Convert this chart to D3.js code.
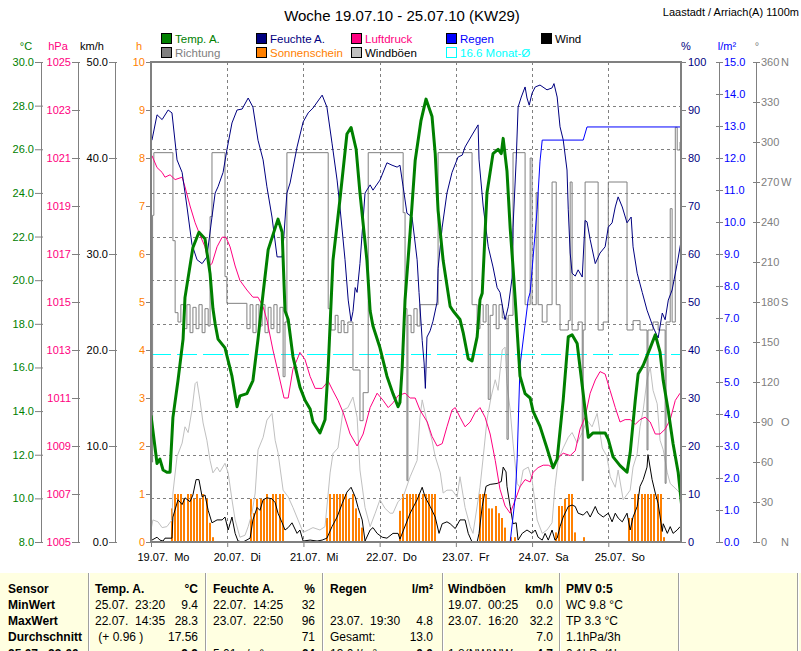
<!DOCTYPE html>
<html>
<head>
<meta charset="UTF-8">
<title>Woche 19.07.10 - 25.07.10 (KW29)</title>
<script src="https://d3js.org/d3.v7.min.js"></script>
<style>
body { margin: 0; background: #fff; }
svg text { font-family: "Liberation Sans", Arial, sans-serif; font-size: 11px; white-space: pre; }
</style>
</head>
<body>
<svg id="chart" width="801" height="651"></svg>
<script>
/* DATA (hours since 19.07. 00:00) */

var dayLabels = ["19.07.  Mo", "20.07.  Di", "21.07.  Mi", "22.07.  Do", "23.07.  Fr", "24.07.  Sa", "25.07.  So"];

// temperature °C
var temp = [[0,13.8],[1.9,11.6],[2.8,11.8],[3.8,11.3],[5,11.2],[6,11.2],[6.9,13.7],[8.5,15.4],[10.1,17.3],[10.7,19.2],
  [13.2,21.5],[15.1,22.2],[17,21.9],[18.6,20.3],[19.5,18.7],[20.2,18],[21.1,17.3],[23.3,16.9],[25.5,15.6],[27.1,14.2],
  [28,14.7],[30.2,14.8],[32.1,15.4],[33.7,17.3],[35.3,19.4],[36.9,21.4],[40,22.8],[41.3,22.2],[42.2,18.6],[43.2,18.2],
  [44.7,16.5],[46.9,15.1],[48.5,14.5],[50.1,14.1],[51,13.5],[53.2,13],[54.8,13.6],[55.8,16],[57.3,20.9],[59.5,23.7],
  [61.7,26.7],[63,27],[64.6,26],[65.8,24],[68,20.9],[69,18.6],[69.9,17.9],[72.1,16.9],[74.3,15.6],[76.2,14.8],
  [77.8,14.2],[78.4,14.4],[79.1,16],[80,19.1],[81.6,22.2],[83.2,25.5],[85,27.3],[86.6,28.3],[88.5,27.5],[89.5,25.8],
  [90.4,23.2],[92,20.9],[94.2,18.8],[95.1,18.6],[97.3,18.2],[98.3,17.6],[99.9,16.4],[101.1,16.3],[102.7,17.4],[103.6,19.1],
  [104.3,19.4],[105.8,24],[107.7,25.8],[109.3,26],[110.3,25.8],[110.9,26.5],[112.1,25],[113.1,22.4],[114,20.6],[114.7,19.1],
  [116.2,15.6],[117.8,14.8],[119.4,14.6],[120.3,14],[122.5,13.3],[124.7,12.3],[126.6,11.4],[127.9,11.8],[129.8,14.5],[131.4,17.4],
  [132.6,17.5],[134.2,17.1],[135.1,16],[136.1,14.8],[137.7,12.8],[139.2,13],[141.4,13],[143,13],[144,12.7],[145.5,11.9],
  [147.7,11.5],[149.9,11.2],[150.9,12.1],[152.5,14.5],[153.4,15.7],[155,16.1],[157.2,16.9],[158.8,17.5],[160.3,16.7],[161.3,15.4],
  [162.9,14],[164.4,12.5],[166,11.2],[167.3,9.4]];

// humidity %
var humidity = [[0.3,83.7],[1.9,89],[3.5,88],[5.4,90],[6.6,89.4],[8.2,79.6],[9.8,77],[11.3,70],[12.9,62],[14.5,58.8],
  [16.1,58],[17.6,59.4],[19.2,67.7],[20.2,72.7],[21.1,74],[22.7,77],[23.9,81.7],[25.5,87.3],[27.1,90],[28.7,90.2],
  [30.6,92.5],[32.1,90.6],[33.7,83.7],[35.3,79.6],[36.5,74],[38.1,67.7],[39.7,59.4],[41.3,59.4],[41.6,61.5],[42.8,72.7],
  [43.8,74.8],[46,82.3],[47.9,87.5],[49.5,89.4],[51,90.4],[53.9,93.1],[55.4,90.6],[57,83.1],[58.6,75.4],[59.5,69.8],
  [61.1,58.8],[62.1,50.4],[63,46],[63.6,48],[64.3,53],[64.9,52],[65.8,58],[67.4,72.7],[69,74.4],[69.9,73.3],
  [72.1,75.4],[74.3,79],[75.9,78.5],[77.5,78.1],[78.4,78.5],[79.4,74],[80.6,68.5],[82.2,67.7],[83.8,58.8],[84.4,52],
  [85.4,42],[86,37.3],[86.4,32],[86.9,42.7],[87.9,44],[88.8,46],[90.1,50],[90.4,57],[91.7,65.6],[93.2,72.7],
  [94.8,77],[96.7,80.2],[98,80.6],[98.9,82.3],[101.1,84.8],[103,86.9],[103.3,79.6],[104.6,70],[106.2,61.5],[107.7,57.3],
  [109,53],[109.9,52],[110.9,48.3],[111.5,46.3],[112.5,49],[113.7,55],[114,65.6],[115,79.6],[115.6,90.6],[116.6,92.7],
  [117.8,94.8],[118.4,92.5],[119.1,91],[120,93.5],[121,94.8],[122.5,95.2],[124.7,94.2],[126.3,94.6],[126.9,95.5],[127.9,92.7],
  [128.8,86.5],[129.8,83.8],[131,77.5],[131.4,69.2],[132,60.2],[132.6,56],[133.6,55.4],[134.5,56.7],[135.8,55.2],[136.7,67],
  [137.3,66.7],[138.3,63],[139.9,58],[141.4,60.2],[143,61.5],[144,65.6],[145.2,66.5],[146.2,69.8],[147.1,71.9],[148.4,69.8],
  [149.9,66.5],[151.2,67.7],[151.8,61.5],[153.1,56],[154.7,52],[156.2,48.3],[158.1,44.8],[159.7,42.5],[161,47.7],[161.9,46.3],
  [162.9,50.4],[164.1,52.5],[165.7,58],[167,63]];

// pressure hPa
var pressure = [[0.3,1021.1],[1.9,1020.6],[3.5,1020.4],[4.4,1020.2],[6,1020.3],[7.6,1020.1],[9.8,1020.2],[10.7,1019.8],[12.3,1019],[13.9,1018.3],
  [15.4,1017.8],[17,1017.3],[18.3,1016.5],[19.2,1016.6],[20.8,1017.3],[22.4,1017.7],[23.6,1017.7],[24.9,1017.3],[26.5,1016.5],[28,1015.9],
  [30.2,1015.5],[32.1,1015.2],[33.7,1015.2],[35.3,1014.8],[36.5,1014.25],[38.4,1013],[40.6,1011.75],[41.9,1011],[43.2,1011],[44.7,1012.2],
  [46,1012.6],[46.9,1012.9],[48.5,1012.6],[50.1,1011.9],[51.7,1011.4],[53.9,1011.4],[55.8,1011.7],[57.3,1011.3],[58.9,1010.9],[60.5,1010.4],
  [62.7,1009.5],[64.9,1009],[66.8,1009.5],[69,1010.6],[71.2,1011.2],[73.1,1010.9],[74.7,1010.6],[76.2,1010.8],[77.8,1011.1],[80,1011.2],
  [81.6,1011],[83.2,1011],[84.7,1010.5],[87,1010],[88.5,1009.4],[90.1,1009],[91.7,1009.1],[93.2,1009.8],[94.8,1010.5],[95.8,1010.6],
  [97.3,1010.2],[98.9,1009.8],[100.5,1010],[102.1,1010.4],[103.6,1010.6],[105.2,1010.2],[106.8,1009.5],[108.4,1008.4],[109.9,1007.2],[111.5,1006.5],
  [113.1,1006.2],[114.7,1006.75],[116.2,1007.3],[117.8,1007.6],[119.4,1007.5],[120.3,1007.9],[121.9,1008.1],[123.5,1008.2],[125.1,1008.2],[126.6,1008.1],
  [128.2,1008.5],[129.8,1008.7],[132,1008.6],[133.6,1008.8],[135.1,1009.7],[136.7,1010.2],[138.3,1011.2],[139.9,1011.75],[141.4,1012.1],[143,1012],
  [144.6,1011.3],[146.2,1010.6],[147.7,1010],[149.3,1010.1],[150.9,1010.1],[152.5,1009.9],[154,1010.1],[155.6,1010.2],[157.2,1010],[158.8,1009.5],
  [160.3,1009.5],[161.9,1009.7],[163.5,1010.1],[165.1,1010.9],[166.6,1011.2]];

// wind km/h
var wind = [[0.3,0.2],[1.9,0.5],[2.8,0.2],[3.8,0.1],[4.4,0.4],[6.6,0.4],[6.9,2.6],[8.5,4.4],[9.8,3.9],[10.7,4.6],
  [12.3,4.2],[13.2,4.9],[14.2,6.5],[15.1,6.5],[16.1,4.7],[17,4.9],[18,3.3],[19.2,2],[20.8,2.3],[22.4,2.3],
  [23.3,2.6],[24.3,1.25],[25.5,2.6],[26.5,0.9],[27.4,0.1],[29,0],[31.2,0.4],[32.1,2.3],[33.4,3.6],[34.3,3.3],
  [35.3,4.4],[36.5,4.6],[38.1,4.5],[39.1,4.1],[40,3],[41.3,2],[42.2,1.25],[43.2,1.5],[44.4,2],[46,0.9],
  [46.9,1.25],[47.9,0.1],[50.1,0.2],[52.3,0.1],[53.9,0.2],[55.4,0.4],[57,1.6],[58.6,2.6],[60.2,4],[61.7,5.2],
  [63,5.7],[64.3,4.7],[65.2,3.6],[66.5,2.3],[67.4,0.1],[69,1.25],[69.9,1.5],[71.2,0.9],[72.8,0.5],[74.3,0.4],
  [76.2,0.9],[77.8,0.9],[78.4,0.3],[81.6,3],[83.8,4.4],[85.4,5.7],[86.3,4.7],[87.9,3.7],[89.5,2.6],[90.7,0.9],
  [91.7,1.9],[93.2,2.1],[94.2,1.9],[95.8,1.4],[97.3,2.3],[98.9,2.3],[99.9,0.9],[101.1,0],[102.7,0],[103.3,0.9],
  [104.3,3.7],[105.5,5.8],[106.8,6],[109,6.1],[110.3,6.3],[110.9,7.8],[111.8,7.3],[112.1,5.8],[113.1,3.7],[114,1.9],
  [115,2],[115.6,0.2],[116.9,0.9],[118.4,1.25],[120,0.9],[121,1.25],[121.9,0.5],[123.2,0.2],[124.1,0.9],[125.1,0.2],
  [126.3,1.25],[127.2,0.2],[127.9,0.4],[128.8,1.6],[129.8,2.6],[131.4,3.7],[132.6,3.85],[133.6,3.7],[134.5,3],[136.1,2.8],
  [137.3,3.2],[138.3,2.6],[139.9,3.7],[140.8,3],[142.4,2.6],[144,3],[145.2,2.1],[146.2,3],[147.1,2.5],[148.4,2.1],
  [149.9,3],[150.9,1.25],[151.8,2.6],[153.1,3.7],[154,5.8],[155,6.5],[156.2,7.8],[156.5,9.1],[157.8,6.5],[158.8,5.1],
  [159.7,4],[161,1.1],[161.3,1.9],[162.6,0.9],[163.5,1.6],[164.4,0.9],[165.7,1.25],[166.6,1.6]];

// gusts km/h
var gusts = [[0,1.25],[0.6,2.3],[2.2,2.1],[3.5,1.5],[5,1.6],[6.6,2.3],[6.9,5.1],[8.2,8.9],[9.8,10.3],[10.7,12],
  [11.7,11.4],[12.9,13.75],[13.9,16.5],[14.5,16.7],[15.4,14.8],[16.4,12.4],[17.6,10.6],[18.6,8.5],[19.5,7.2],[20.8,7.8],
  [21.7,7.3],[23.3,8.2],[24.3,7.2],[25.5,4.4],[26.5,2.3],[28,0.5],[29.6,0.7],[30.6,1.6],[31.8,3],[32.8,5.1],
  [33.7,9.6],[35.3,10.9],[36.5,12.7],[38.1,13.4],[39.1,10.6],[40,9.3],[41.6,5.4],[43.2,4.7],[44.7,3.6],[46.3,2.3],
  [47.9,1],[49.5,1.25],[51,1.5],[53.2,1.25],[54.8,1.6],[56.4,7.2],[57.3,9.2],[58.9,9.8],[60.5,13.75],[62,14],
  [63.6,15.1],[64.9,13],[65.8,7.5],[67.4,3.6],[69,1.6],[70.6,3],[72.1,4.4],[73.7,3.5],[75.3,3],[76.2,3],
  [77.8,4.2],[79.4,4.7],[81.6,6.8],[83.8,8.5],[84.7,13],[85.4,14.8],[87,12.4],[88.5,10.6],[89.5,8.9],[91.1,7.2],
  [92,5.1],[93.2,5.4],[94.8,5.4],[96.4,4.7],[97.3,6.8],[98.9,3.6],[100.5,1.6],[101.4,0.9],[103.6,5.7],[104.6,8.8],
  [105.8,12.7],[107.1,15.1],[108.4,16.9],[109.3,15.8],[110.6,20],[111.5,20.3],[112.1,16.5],[113.1,13.75],[114,10.3],[115.3,6.1],
  [116.2,5.7],[117.2,7.5],[118.8,7.8],[120,6.5],[121.6,2.3],[123.2,0.9],[124.7,1.25],[126.3,2],[127.2,5.7],[128.2,8.5],
  [129.8,9.8],[131.4,10.9],[132.6,11.4],[134.2,10.3],[135.8,11.4],[137.3,12.7],[138.9,12],[140.5,13.4],[142.1,9.8],[143.6,8.9],
  [144.6,6.8],[146.2,5.7],[147.1,7.5],[148.7,4.4],[150.9,5.4],[151.8,7.8],[153.1,9.2],[154,12],[155,13.75],[156.2,16.9],
  [157.2,18.2],[158.1,15.8],[159.4,14.4],[160.3,10.6],[161.3,9.6],[162.6,7.2],[163.5,6.1],[165.7,5.4],[166.6,5.1]];

// wind direction °
var direction = [[0,60],[0.5,245],[0.9,292],[6.9,226],[7.6,172],[8.5,165],[9.4,178],[10.4,160],[11.3,178],[12.3,157],
  [13.2,176],[14.2,160],[15.1,178],[16.1,157],[17,175],[18,162],[18.6,244],[19.2,292],[23.3,199],[23.9,179],
  [30.2,160],[31.2,178],[32.1,157],[33.1,178],[34,162],[35,178],[35.9,157],[36.9,176],[37.8,160],[38.7,178],
  [39.7,157],[40.6,176],[41.6,124],[42.2,165],[42.8,292],[55.8,175],[56.7,159],[58,170],[58.9,157],[59.9,166],
  [60.8,157],[62,165],[63.6,129],[65.8,91],[66.8,112],[68.4,292],[79.4,247],[80,175],[80.6,46],[80.9,170],
  [81.9,157],[82.8,175],[83.8,162],[84.7,178],[90.4,292],[101.1,178],[102.7,160],[103.6,178],[104.6,165],[105.5,178],
  [106.2,107],[106.8,170],[107.7,178],[108.7,160],[109.6,178],[110.6,168],[112.1,77],[112.5,170],[114,292],[117.8,178],
  [119.4,288],[120,178],[121.3,262],[121.9,178],[123.2,165],[124.7,178],[126.3,270],[127.6,178],[128.8,159],[131.4,166],
  [132,270],[132.6,159],[134.5,165],[135.8,46],[136.1,159],[136.7,270],[140.8,159],[142.4,165],[144,270],[149.9,159],
  [151.8,166],[154,159],[156.2,69],[156.5,159],[158.1,165],[159.7,159],[161.9,44],[162.2,165],[163.5,250],[164.1,165],
  [165.1,311],[165.7,294],[166.6,300]];

// rain, cumulative l/m²
var rain = [[0,0],[113.1,0],[114.7,1.4],[115.3,2.6],[116.2,5.5],[118.8,7.6],[119.4,7.8],[121.6,10.4],[122.5,11.9],[123.2,12.56],
  [136.1,12.56],[137.3,12.97],[167,12.97]];

// sunshine per hour (h)
var sunshine = [[6,0.7],[7,1],[8,1],[9,1],[10,0.9],[11,1],[12,1],[13,0.9],[14,1],[15,0.9],[16,1],[17,0.9],[18,0.4],[19,0.1],
  [31,0.9],[32,0.6],[33,0.9],[34,0.9],[35,0.9],[36,1],[37,0.9],[38,1],[39,1],[40,1],[41,1],
  [55,0.5],[56,1],[57,1],[58,1],[59,1],[60,1],[61,1],[62,0.9],[63,1],[64,0.7],[65,0.5],[66,0.3],
  [78,0.65],[79,1],[80,1],[81,1],[82,1],[83,1],[84,1],[85,1],[86,1],[87,1],[88,1],[89,1],
  [103,1],[104,1],[105,1],[106,0.7],[107,0.7],[108,0.75],[109,0.6],[110,0.5],[111,0.3],[113,0.1],[114,0.1],
  [127,0.2],[128,0.75],[129,0.75],[130,0.9],[131,1],[132,1],[133,0.2],[136,0.1],
  [150,0.5],[151,0.5],[152,1],[153,1],[154,1],[155,1],[156,1],[157,1],[158,1],[159,1],[160,1],[161,0.1]];

var monthAvgTemp = 16.6;

// ticks
var tempTicks = d3.range(8, 30.1, 2);
var pressTicks = d3.range(1005, 1025.1, 2);
var windTicks = d3.range(0, 50.1, 10);
var sunTicks = d3.range(0, 10.1, 1);
var humTicks = d3.range(0, 100.1, 10);
var rainTicks = d3.range(0, 15.1, 1);
var dirTicks = d3.range(0, 360.1, 30);
var dirNames = {0: "N", 90: "O", 180: "S", 270: "W", 360: "N"};

// summary table
var tableHead = ["Sensor", "Temp. A.", "°C", "Feuchte A.", "%", "Regen", "l/m²", "Windböen", "km/h", "PMV 0:5"];
var tableRows = [
  ["MinWert", "25.07.  23:20", "9.4", "22.07.  14:25", "32", "", "", "19.07.  00:25", "0.0", "WC 9.8 °C"],
  ["MaxWert", "22.07.  14:35", "28.3", "23.07.  22:50", "96", "23.07.  19:30", "4.8", "23.07.  16:20", "32.2", "TP 3.3 °C"],
  ["Durchschnitt", " (+ 0.96 )", "17.56", "", "71", "Gesamt:", "13.0", "", "7.0", "1.1hPa/3h"]
];
var tableNow = ["25.07.  23:00", "", "9.9", "5.01 g/m³", "64", "13.0 l/m²", "0.0", "1.8(NW)NW", "4.7", "0.1hPa/1h"];

/* CHART */
var svg = d3.select("#chart");
svg.append("rect").attr("width", 801).attr("height", 651).attr("fill", "#fff");

var plotL = 151, plotR = 681, plotT = 62, plotB = 542;

var x = d3.scaleLinear().domain([0, 168]).range([151, 684.5]);
var yT = d3.scaleLinear().domain([8, 30]).range([plotB, plotT]);
var yP = d3.scaleLinear().domain([1005, 1025]).range([plotB, plotT]);
var yW = d3.scaleLinear().domain([0, 50]).range([plotB, plotT]);
var yS = d3.scaleLinear().domain([0, 10]).range([plotB, plotT]);
var yH = d3.scaleLinear().domain([0, 100]).range([plotB, plotT]);
var yR = d3.scaleLinear().domain([0, 15]).range([plotB, plotT]);
var yD = d3.scaleLinear().domain([0, 360]).range([plotB, plotT]);

var gray = "#808080";

// title
svg.append("text").attr("x", 402).attr("y", 21).attr("text-anchor", "middle")
  .style("font-size", "15px").text("Woche 19.07.10 - 25.07.10 (KW29)");
svg.append("text").attr("x", 799).attr("y", 16).attr("text-anchor", "end")
  .style("font-size", "11px").text("Laastadt / Arriach(A) 1100m");

// legend
var legend = [
  {name: "Temp. A.", color: "#008000", text: "#008000", col: 0, row: 0},
  {name: "Feuchte A.", color: "#000080", text: "#000080", col: 1, row: 0},
  {name: "Luftdruck", color: "#ff0080", text: "#ff0080", col: 2, row: 0},
  {name: "Regen", color: "#0000ff", text: "#0000ff", col: 3, row: 0},
  {name: "Wind", color: "#000000", text: "#000000", col: 4, row: 0},
  {name: "Richtung", color: gray, text: gray, col: 0, row: 1},
  {name: "Sonnenschein", color: "#ff8000", text: "#ff8000", col: 1, row: 1},
  {name: "Windböen", color: "#c0c0c0", text: "#000000", col: 2, row: 1},
  {name: "16.6 Monat-Ø", color: null, text: "#00ffff", col: 3, row: 1}
];
var lg = svg.append("g").selectAll("g").data(legend).join("g")
  .attr("transform", function(d) { return "translate(" + (161 + d.col * 95) + "," + (33 + d.row * 14) + ")"; });
lg.append("rect").attr("x", 0.5).attr("y", 0.5).attr("width", 10).attr("height", 10)
  .attr("fill", function(d) { return d.color || "#fff"; })
  .attr("stroke", function(d) { return d.color ? "#000" : "#00ffff"; });
lg.append("text").attr("x", 14).attr("y", 9.5).attr("fill", function(d) { return d.text; })
  .style("font-size", "11.5px").text(function(d) { return d.name; });

// gridlines
var grid = svg.append("g").attr("stroke", gray).attr("stroke-dasharray", "3,3");
grid.selectAll(".gv").data([24, 48, 72, 96, 120, 144]).join("line")
  .attr("x1", function(d) { return Math.round(x(d)) + 0.5; }).attr("x2", function(d) { return Math.round(x(d)) + 0.5; })
  .attr("y1", plotT).attr("y2", plotB);
grid.selectAll(".gh").data(tempTicks.slice(1, -1)).join("line")
  .attr("x1", plotL).attr("x2", plotR)
  .attr("y1", function(d) { return Math.round(yT(d)) + 0.5; }).attr("y2", function(d) { return Math.round(yT(d)) + 0.5; });

// clip
svg.append("clipPath").attr("id", "plot").append("rect")
  .attr("x", plotL + 1).attr("y", plotT).attr("width", plotR - plotL - 1).attr("height", plotB - plotT);
var plot = svg.append("g").attr("clip-path", "url(#plot)");

// sunshine bars
plot.append("g").attr("fill", "#ff8000").selectAll("rect").data(sunshine).join("rect")
  .attr("x", function(d) { return Math.round(x(d[0] + 0.5)) - 1; })
  .attr("width", 2)
  .attr("y", function(d) { return yS(d[1]); })
  .attr("height", function(d) { return plotB - yS(d[1]); });

// month average temperature
plot.append("line").attr("x1", plotL).attr("x2", plotR)
  .attr("y1", Math.round(yT(monthAvgTemp)) + 0.5).attr("y2", Math.round(yT(monthAvgTemp)) + 0.5)
  .attr("stroke", "#00ffff").attr("stroke-dasharray", "20,6");

function drawLine(data, yScale, color, width, curve) {
  var gen = d3.line().x(function(d) { return x(d[0]); }).y(function(d) { return yScale(d[1]); });
  if (curve) gen.curve(curve);
  plot.append("path").datum(data).attr("d", gen).attr("fill", "none")
    .attr("stroke", color).attr("stroke-width", width).attr("stroke-linejoin", "round");
}

drawLine(gusts, yW, "#c0c0c0", 1);
drawLine(direction, yD, gray, 1, d3.curveStepAfter);
drawLine(wind, yW, "#000000", 1);
drawLine(pressure, yP, "#ff0080", 1);
drawLine(humidity, yH, "#000080", 1);
drawLine(rain, yR, "#0000ff", 1);
drawLine(temp, yT, "#008000", 3);

// frame
svg.append("rect").attr("x", plotL).attr("y", plotT).attr("width", plotR - plotL).attr("height", plotB - plotT)
  .attr("fill", "none").attr("stroke", gray).attr("stroke-width", 2);

// axes
function vAxis(scale, xpos, side, ticks, fmt, color, inner, outerStub, pad) {
  var ax = (side === "left" ? d3.axisLeft(scale) : d3.axisRight(scale))
    .tickValues(ticks).tickFormat(fmt).tickSizeOuter(0).tickSizeInner(inner).tickPadding(pad);
  var g = svg.append("g").attr("transform", "translate(" + xpos + ",0)").call(ax)
    .attr("font-family", null).attr("font-size", null);
  g.select(".domain").attr("stroke", gray);
  g.selectAll(".tick line").attr("stroke", gray).attr("x1", side === "left" ? outerStub : -outerStub);
  g.selectAll(".tick text").attr("fill", color);
  return g;
}
vAxis(yT, 41, "left", tempTicks, d3.format(".1f"), "#008000", 6, 2, 1);
vAxis(yP, 78, "left", pressTicks, d3.format("d"), "#ff0080", 6, 2, 1);
vAxis(yW, 115, "left", windTicks, d3.format(".1f"), "#000000", 6, 2, 1);
vAxis(yS, 151, "left", sunTicks, d3.format("d"), "#ff8000", 5, 0, 1).select(".domain").remove();
vAxis(yH, 681, "right", humTicks, d3.format("d"), "#000080", 5, 0, 2).select(".domain").remove();
vAxis(yR, 719, "right", rainTicks, d3.format(".1f"), "#0000ff", 4, 3, 1);
var dirAxis = vAxis(yD, 756, "right", dirTicks, d3.format("d"), gray, 4, 3, 1);
dirAxis.selectAll(".tick").filter(function(d) { return dirNames[d]; })
  .append("text").attr("x", 25).attr("dy", "0.32em").attr("fill", gray)
  .text(function(d) { return dirNames[d]; });

// axis headers
var heads = [["°C", 26, "#008000"], ["hPa", 58, "#ff0080"], ["km/h", 92, "#000"], ["h", 139, "#ff8000"],
  ["%", 686, "#000080"], ["l/m²", 727, "#0000ff"], ["°", 757, gray]];
svg.append("g").selectAll("text").data(heads).join("text")
  .attr("x", function(d) { return d[1]; }).attr("y", 50).attr("text-anchor", "middle")
  .attr("fill", function(d) { return d[2]; }).text(function(d) { return d[0]; });

// x axis
var xa = svg.append("g").attr("transform", "translate(0," + plotB + ")")
  .call(d3.axisBottom(x).tickValues([0, 24, 48, 72, 96, 120, 144])
    .tickFormat(function(d, i) { return dayLabels[i]; }).tickSizeOuter(0).tickSize(5).tickPadding(6))
  .attr("font-family", null).attr("font-size", null);
xa.select(".domain").remove();
xa.selectAll(".tick line").attr("stroke", gray);
xa.selectAll(".tick text").attr("text-anchor", "start").attr("x", -14).attr("fill", "#000");

// summary table
var tb = svg.append("g");
tb.append("rect").attr("x", 0).attr("y", 573).attr("width", 801).attr("height", 78).attr("fill", "#ffffe1");
[88, 205, 322, 442, 559, 678, 797].forEach(function(sx) {
  tb.append("line").attr("x1", sx + 0.5).attr("x2", sx + 0.5).attr("y1", 573).attr("y2", 651).attr("stroke", "#a0a0a0");
  tb.append("line").attr("x1", sx + 1.5).attr("x2", sx + 1.5).attr("y1", 573).attr("y2", 651).attr("stroke", "#fff");
});
var colX = [8, 95, 198, 213, 315, 330, 433, 448, 553, 566];
var colAnchor = ["start", "start", "end", "start", "end", "start", "end", "start", "end", "start"];
function tableRow(cells, y, boldAll, boldLabel, boldValues) {
  cells.forEach(function(c, i) {
    var isVal = (i === 2 || i === 4 || i === 6 || i === 8);
    var bold = boldAll || (i === 0 && boldLabel) || (isVal && boldValues);
    tb.append("text").attr("x", colX[i]).attr("y", y).attr("text-anchor", colAnchor[i])
      .style("font-size", "12px").style("font-weight", bold ? "bold" : "normal").text(c);
  });
}
tableRow(tableHead, 593, true);
tableRows.forEach(function(r, i) { tableRow(r, 609 + i * 16, false, true, false); });
tableRow(tableNow, 658, false, true, true);
</script>
</body>
</html>
